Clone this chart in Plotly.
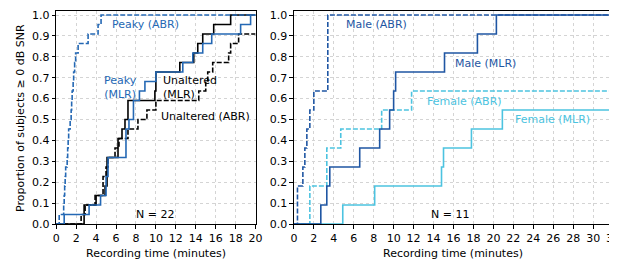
import plotly.graph_objects as go

# ---------------- data (minutes at which each subject reached >= 0 dB SNR) ----------------
N_LEFT = 22
N_RIGHT = 11

peaky_abr = [0.3, 0.75, 0.8, 0.85, 0.9, 0.95, 1.1, 1.15, 1.2, 1.25, 1.4, 1.5, 1.55, 1.6,
             1.7, 1.75, 1.85, 1.95, 2.2, 3.2, 4.2, 4.5]
peaky_mlr = [0.8, 3.3, 4.45, 5.0, 5.0, 5.2, 5.2, 7.0, 7.0, 7.0, 7.3, 7.75, 7.75, 8.35,
             8.9, 10.0, 12.7, 13.7, 14.7, 15.6, 18.5, 19.5]
unaltered_mlr = [2.8, 2.8, 4.0, 4.9, 5.1, 5.1, 5.1, 6.2, 6.2, 6.6, 6.9, 7.2, 7.2, 9.9,
                 10.0, 10.0, 12.4, 13.8, 14.2, 14.7, 15.8, 17.5]
unaltered_abr = [2.5, 2.9, 3.9, 4.7, 4.7, 5.0, 5.2, 5.9, 6.3, 7.2, 8.2, 9.1, 10.0, 14.3,
                 15.0, 15.2, 15.7, 17.3, 17.5, 18.3]

male_abr = [0.36, 0.36, 0.9, 1.1, 1.3, 1.6, 2.0, 3.4, 3.4, 3.4, 3.4]
male_mlr = [2.7, 3.3, 3.6, 6.6, 8.6, 9.6, 10.0, 10.2, 15.1, 18.4, 20.3]
female_abr = [1.6, 1.6, 3.3, 3.3, 4.7, 8.8, 11.8]
female_mlr = [4.9, 8.1, 14.8, 15.0, 17.8, 20.9]

xticks_left = list(range(0, 21, 2))
xticks_right = list(range(0, 33, 2))
yticks = [i / 10 for i in range(11)]
ytick_text = [f"{v:.1f}" for v in yticks]

# ---------------- styles ----------------
PEAKY = "#2468b4"
BLACK = "#000000"
MALE = "#1f56a3"
FEMALE = "#4cc3e0"
DASH = "5px,2px"
FONT = "DejaVu Sans"
FS = 11


def ecdf(times, n, xmax):
    xs = [0] + list(times) + [xmax]
    ys = [0] + [(i + 1) / n for i in range(len(times))] + [len(times) / n]
    return xs, ys


fig = go.Figure()


def add(times, n, xmax, color, dash, xa, ya):
    xs, ys = ecdf(times, n, xmax)
    fig.add_trace(go.Scatter(x=xs, y=ys, mode="lines", line_shape="hv",
                             line=dict(color=color, width=1.6, dash=dash),
                             xaxis=xa, yaxis=ya, showlegend=False, hoverinfo="skip",
                             cliponaxis=True))


add(unaltered_abr, N_LEFT, 20, BLACK, DASH, "x", "y")
add(unaltered_mlr, N_LEFT, 20, BLACK, "solid", "x", "y")
add(peaky_abr, N_LEFT, 20, PEAKY, DASH, "x", "y")
add(peaky_mlr, N_LEFT, 20, PEAKY, "solid", "x", "y")

add(female_abr, N_RIGHT, 32, FEMALE, DASH, "x2", "y2")
add(female_mlr, N_RIGHT, 32, FEMALE, "solid", "x2", "y2")
add(male_abr, N_RIGHT, 32, MALE, DASH, "x2", "y2")
add(male_mlr, N_RIGHT, 32, MALE, "solid", "x2", "y2")

W, H = 617, 260
ydom = [(H - 221.7) / H, (H - 0.9) / H]

axis_common = dict(showline=True, linecolor="black", linewidth=1, mirror=True,
                   ticks="outside", ticklen=3.5, tickcolor="black", tickwidth=1,
                   showgrid=True, gridcolor="#d4d4d4", griddash="dot", gridwidth=1,
                   zeroline=False, tickfont=dict(family=FONT, size=FS, color="black"),
                   layer="above traces", ticklabeloverflow="allow")

fig.update_layout(
    width=W, height=H, margin=dict(l=0, r=0, t=0, b=0),
    paper_bgcolor="white", plot_bgcolor="white",
    font=dict(family=FONT, size=FS, color="black"),
    xaxis=dict(domain=[45 / W, 248 / W], range=[0, 20], tickvals=xticks_left,
               ticktext=[str(v) for v in xticks_left], anchor="y", **axis_common),
    yaxis=dict(domain=ydom, range=[0, 1.02], tickvals=yticks, ticktext=ytick_text,
               anchor="x", **axis_common),
    xaxis2=dict(domain=[287 / W, 612 / W], range=[0, 32], tickvals=xticks_right,
                ticktext=[str(v) for v in xticks_right], anchor="y2", **axis_common),
    yaxis2=dict(domain=ydom, range=[0, 1.02], tickvals=yticks, ticktext=ytick_text,
                anchor="x2", **axis_common),
)

ann = []


def txt(x, y, s, color, xa, ya, xanchor="left", yanchor="middle", align="left"):
    ann.append(dict(x=x, y=y, xref=xa, yref=ya, text=s, showarrow=False,
                    font=dict(family=FONT, size=FS, color=color),
                    xanchor=xanchor, yanchor=yanchor, align=align))


txt(5.4, 0.955, "Peaky (ABR)", PEAKY, "x", "y")
txt(6.5, 0.655, "Peaky<br>(MLR)", PEAKY, "x", "y", xanchor="center", align="center")
txt(10.5, 0.655, "Unaltered<br>(MLR)", BLACK, "x", "y")
txt(10.3, 0.515, "Unaltered (ABR)", BLACK, "x", "y")
txt(9.9, 0.045, "N = 22", BLACK, "x", "y", xanchor="center")

txt(5.0, 0.955, "Male (ABR)", MALE, "x2", "y2")
txt(16.0, 0.77, "Male (MLR)", MALE, "x2", "y2")
txt(13.1, 0.585, "Female (ABR)", FEMALE, "x2", "y2")
txt(22.0, 0.5, "Female (MLR)", FEMALE, "x2", "y2")
txt(15.7, 0.045, "N = 11", BLACK, "x2", "y2", xanchor="center")

# axis titles
ann.append(dict(x=146.5 / W, y=(H - 252.5) / H, xref="paper", yref="paper",
                text="Recording time (minutes)", showarrow=False,
                font=dict(family=FONT, size=FS), xanchor="center", yanchor="middle"))
ann.append(dict(x=449.5 / W, y=(H - 252.5) / H, xref="paper", yref="paper",
                text="Recording time (minutes)", showarrow=False,
                font=dict(family=FONT, size=FS), xanchor="center", yanchor="middle"))
ann.append(dict(x=8 / W, y=(H - 112) / H, xref="paper", yref="paper",
                text="Proportion of subjects ≥ 0 dB SNR", showarrow=False, textangle=-90,
                font=dict(family=FONT, size=FS), xanchor="center", yanchor="middle"))

fig.update_layout(annotations=ann)
fig.write_html("out.html")
